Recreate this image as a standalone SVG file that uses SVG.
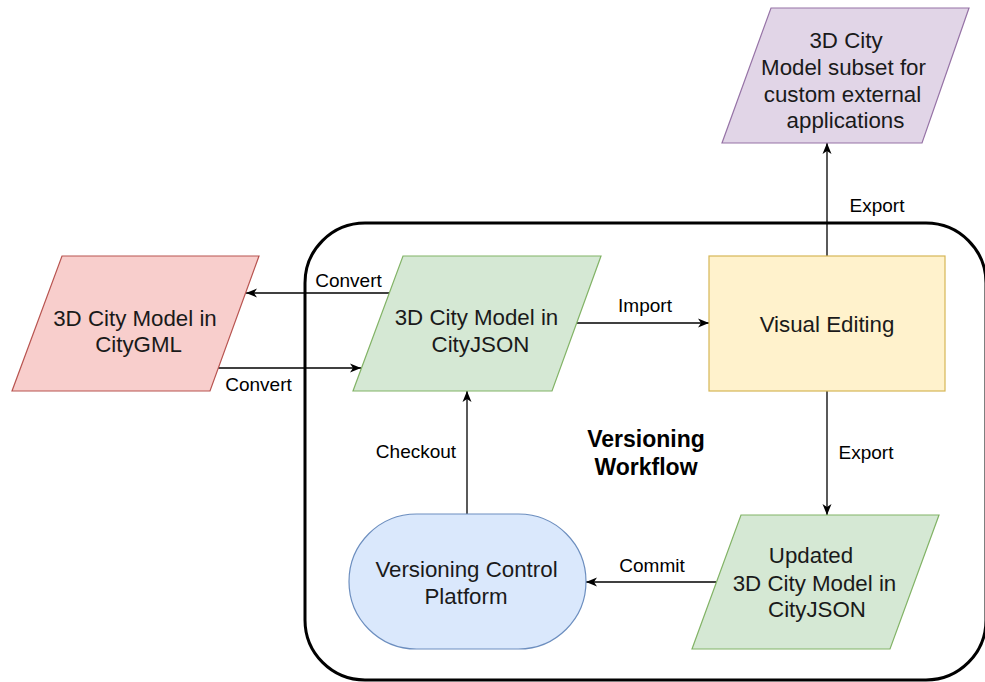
<svg xmlns="http://www.w3.org/2000/svg" width="985" height="682" viewBox="0 0 985 682">
<defs>
<style>
.t{font-family:"Liberation Sans",Arial,sans-serif;font-size:22.3px;fill:#1a1a1a;text-anchor:middle}
.l{font-family:"Liberation Sans",Arial,sans-serif;font-size:19px;fill:#000;text-anchor:middle}
.b{font-family:"Liberation Sans",Arial,sans-serif;font-size:23px;font-weight:bold;fill:#000;text-anchor:middle}
.c{fill:none;stroke:#000;stroke-width:1.3;marker-end:url(#ah)}
</style>
<marker id="ah" markerUnits="userSpaceOnUse" markerWidth="12" markerHeight="10" viewBox="0 0 12 10" refX="11" refY="5" orient="auto">
<path d="M0,0.5 L11,5 L0,9.5 L3,5 Z" fill="#000"/>
</marker>
</defs>
<rect width="985" height="682" fill="#fff"/>
<g id="workflow-container">
<rect x="305" y="223" width="681" height="457" rx="60" ry="60" fill="none" stroke="#000" stroke-width="3"/>
<text class="b" x="646" y="447">Versioning</text>
<text class="b" x="646" y="475">Workflow</text>
</g>
<g id="connectors">
<path class="c" d="M827,256 L827,143"/>
<text class="l" x="877" y="212">Export</text>
<path class="c" d="M389,293 L246,293"/>
<text class="l" x="348.5" y="287">Convert</text>
<path class="c" d="M218,368 L361,368"/>
<text class="l" x="258.5" y="391">Convert</text>
<path class="c" d="M577,323 L709,323"/>
<text class="l" x="645" y="312">Import</text>
<path class="c" d="M827,391 L827,515"/>
<text class="l" x="866" y="459">Export</text>
<path class="c" d="M716,582 L586,582"/>
<text class="l" x="652" y="572">Commit</text>
<path class="c" d="M467,514 L467,391"/>
<text class="l" x="416" y="458">Checkout</text>
</g>
<g id="node-subset">
<polygon points="771,8 969,8 922,143 722,143" fill="#e1d5e7" stroke="#9673a6" stroke-width="1.2"/>
<text class="t" x="846" y="48">3D City</text>
<text class="t" x="843.5" y="75">Model subset for</text>
<text class="t" x="842.5" y="102">custom external</text>
<text class="t" x="845.5" y="128">applications</text>
</g>
<g id="node-citygml">
<polygon points="62,256 259,256 210,391 12,391" fill="#f8cecc" stroke="#b85450" stroke-width="1.2"/>
<text class="t" x="135" y="326">3D City Model in</text>
<text class="t" x="138.5" y="352">CityGML</text>
</g>
<g id="node-cityjson">
<polygon points="403,256 601,256 552,391 353,391" fill="#d5e8d4" stroke="#82b366" stroke-width="1.2"/>
<text class="t" x="476.5" y="325">3D City Model in</text>
<text class="t" x="480.5" y="352">CityJSON</text>
</g>
<g id="node-visual-editing">
<rect x="709" y="256" width="236" height="135" fill="#fff2cc" stroke="#d6b656" stroke-width="1.2"/>
<text class="t" x="827" y="332">Visual Editing</text>
</g>
<g id="node-updated">
<polygon points="741,515 939,515 890,649 692,649" fill="#d5e8d4" stroke="#82b366" stroke-width="1.2"/>
<text class="t" x="811" y="563">Updated</text>
<text class="t" x="814.5" y="591">3D City Model in</text>
<text class="t" x="817" y="617">CityJSON</text>
</g>
<g id="node-vcp">
<rect x="349" y="514" width="237" height="135" rx="67.5" ry="67.5" fill="#dae8fc" stroke="#6c8ebf" stroke-width="1.2"/>
<text class="t" x="466.5" y="577">Versioning Control</text>
<text class="t" x="466" y="604">Platform</text>
</g>
</svg>
